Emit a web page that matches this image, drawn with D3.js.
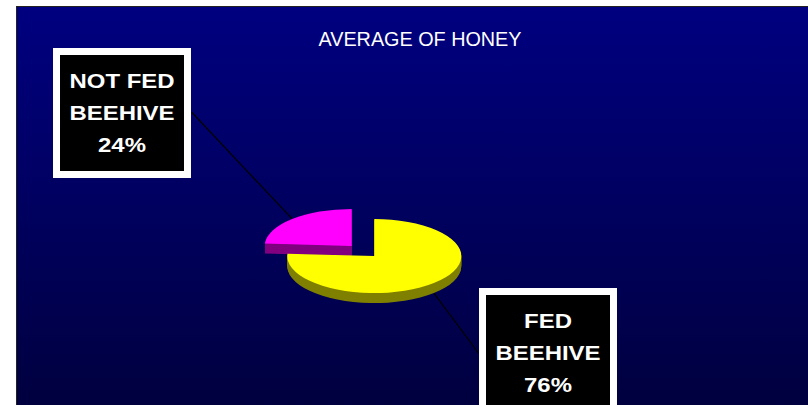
<!DOCTYPE html>
<html>
<head>
<meta charset="utf-8">
<script src="https://cdn.jsdelivr.net/npm/d3@7"></script>
<style>
  html, body { margin: 0; padding: 0; background: #fff; }
  svg { display: block; }
</style>
</head>
<body>
<svg id="chart" width="808" height="405"></svg>
<script>
// data
var categories = ["FED BEEHIVE", "NOT FED BEEHIVE"];
var values = [76, 24];
var labelLines = [["FED", "BEEHIVE"], ["NOT FED", "BEEHIVE"]];
var title = "AVERAGE OF HONEY";

var svg = d3.select("#chart"),
  width = +svg.attr("width"),
  height = +svg.attr("height");

var topColor = d3.scaleOrdinal().domain(categories).range(["#ffff00", "#ff00ff"]);
var sideColor = d3.scaleOrdinal().domain(categories).range(["#808000", "#800080"]);

// background
var defs = svg.append("defs");
var grad = defs.append("linearGradient").attr("id", "bg").attr("x1", 0).attr("y1", 0).attr("x2", 0).attr("y2", 1);
grad.append("stop").attr("offset", "0%").attr("stop-color", "#000080");
grad.append("stop").attr("offset", "100%").attr("stop-color", "#00003e");

svg.append("rect")
  .attr("x", 16.5).attr("y", 6.5)
  .attr("width", width - 16).attr("height", height)
  .attr("fill", "url(#bg)")
  .attr("stroke", "#222").attr("stroke-width", 1);

svg.append("text")
  .attr("x", 420).attr("y", 46)
  .attr("text-anchor", "middle")
  .attr("fill", "#fff")
  .style("font-family", "Arial, 'Liberation Sans', sans-serif")
  .style("font-size", "19.8px")
  .text(title);

// pie geometry (3d-ish)
var cx = 363, cy = 251, rx = 87, ry = 37, depth = 10, explode = 16.5;
var k = ry / rx;

var pie = d3.pie().sort(null).value(function(d) { return d; });
var arcs = pie(values);
var arc = d3.arc().innerRadius(0).outerRadius(rx);

function sliceOffset(d) {
  var m = (d.startAngle + d.endAngle) / 2;
  return [explode * Math.sin(m), -explode * Math.cos(m) * k, m];
}

// label boxes (layout)
var boxes = [
  { x: 479, y: 288, w: 138, h: 130, ax: 478.5, ay: 353 },
  { x: 53, y: 48, w: 138, h: 130, ax: 191.5, ay: 112 }
];

// leader lines, drawn under the pie
arcs.forEach(function(d, i) {
  var o = sliceOffset(d);
  var px = cx + o[0] + rx * Math.sin(o[2]);
  var py = cy + o[1] - rx * Math.cos(o[2]) * k;
  if (Math.cos(o[2]) < 0) py += depth;
  svg.append("line")
    .attr("x1", boxes[i].ax).attr("y1", boxes[i].ay)
    .attr("x2", px).attr("y2", py)
    .attr("stroke", "#000").attr("stroke-width", 1.2);
});

// draw back slice first
var order = [1, 0];
order.forEach(function(i) {
  var d = arcs[i];
  var o = sliceOffset(d);
  var cat = categories[i];
  for (var s = depth; s >= 1; s--) {
    svg.append("path")
      .attr("transform", "translate(" + (cx + o[0]) + "," + (cy + o[1] + s) + ") scale(1," + k + ")")
      .attr("d", arc(d))
      .attr("fill", sideColor(cat));
  }
  svg.append("path")
    .attr("transform", "translate(" + (cx + o[0]) + "," + (cy + o[1]) + ") scale(1," + k + ")")
    .attr("d", arc(d))
    .attr("fill", topColor(cat));
});

// labels
var fmt = d3.format(".0%");
var total = d3.sum(values);
arcs.forEach(function(d, i) {
  var b = boxes[i];
  var g = svg.append("g");
  g.append("rect").attr("x", b.x).attr("y", b.y).attr("width", b.w).attr("height", b.h).attr("fill", "#fff");
  g.append("rect").attr("x", b.x + 7).attr("y", b.y + 7).attr("width", b.w - 14).attr("height", b.h - 14).attr("fill", "#000");
  var lines = labelLines[i].concat([fmt(values[i] / total)]);
  lines.forEach(function(t, j) {
    g.append("text")
      .attr("transform", "translate(" + (b.x + b.w / 2) + "," + (b.y + 39.5 + j * 32) + ") scale(1.14,1)")
      .attr("text-anchor", "middle")
      .attr("fill", "#fff")
      .style("font-family", "Arial, 'Liberation Sans', sans-serif")
      .style("font-weight", "bold")
      .style("font-size", "21px")
      .text(t);
  });
});
</script>
</body>
</html>
